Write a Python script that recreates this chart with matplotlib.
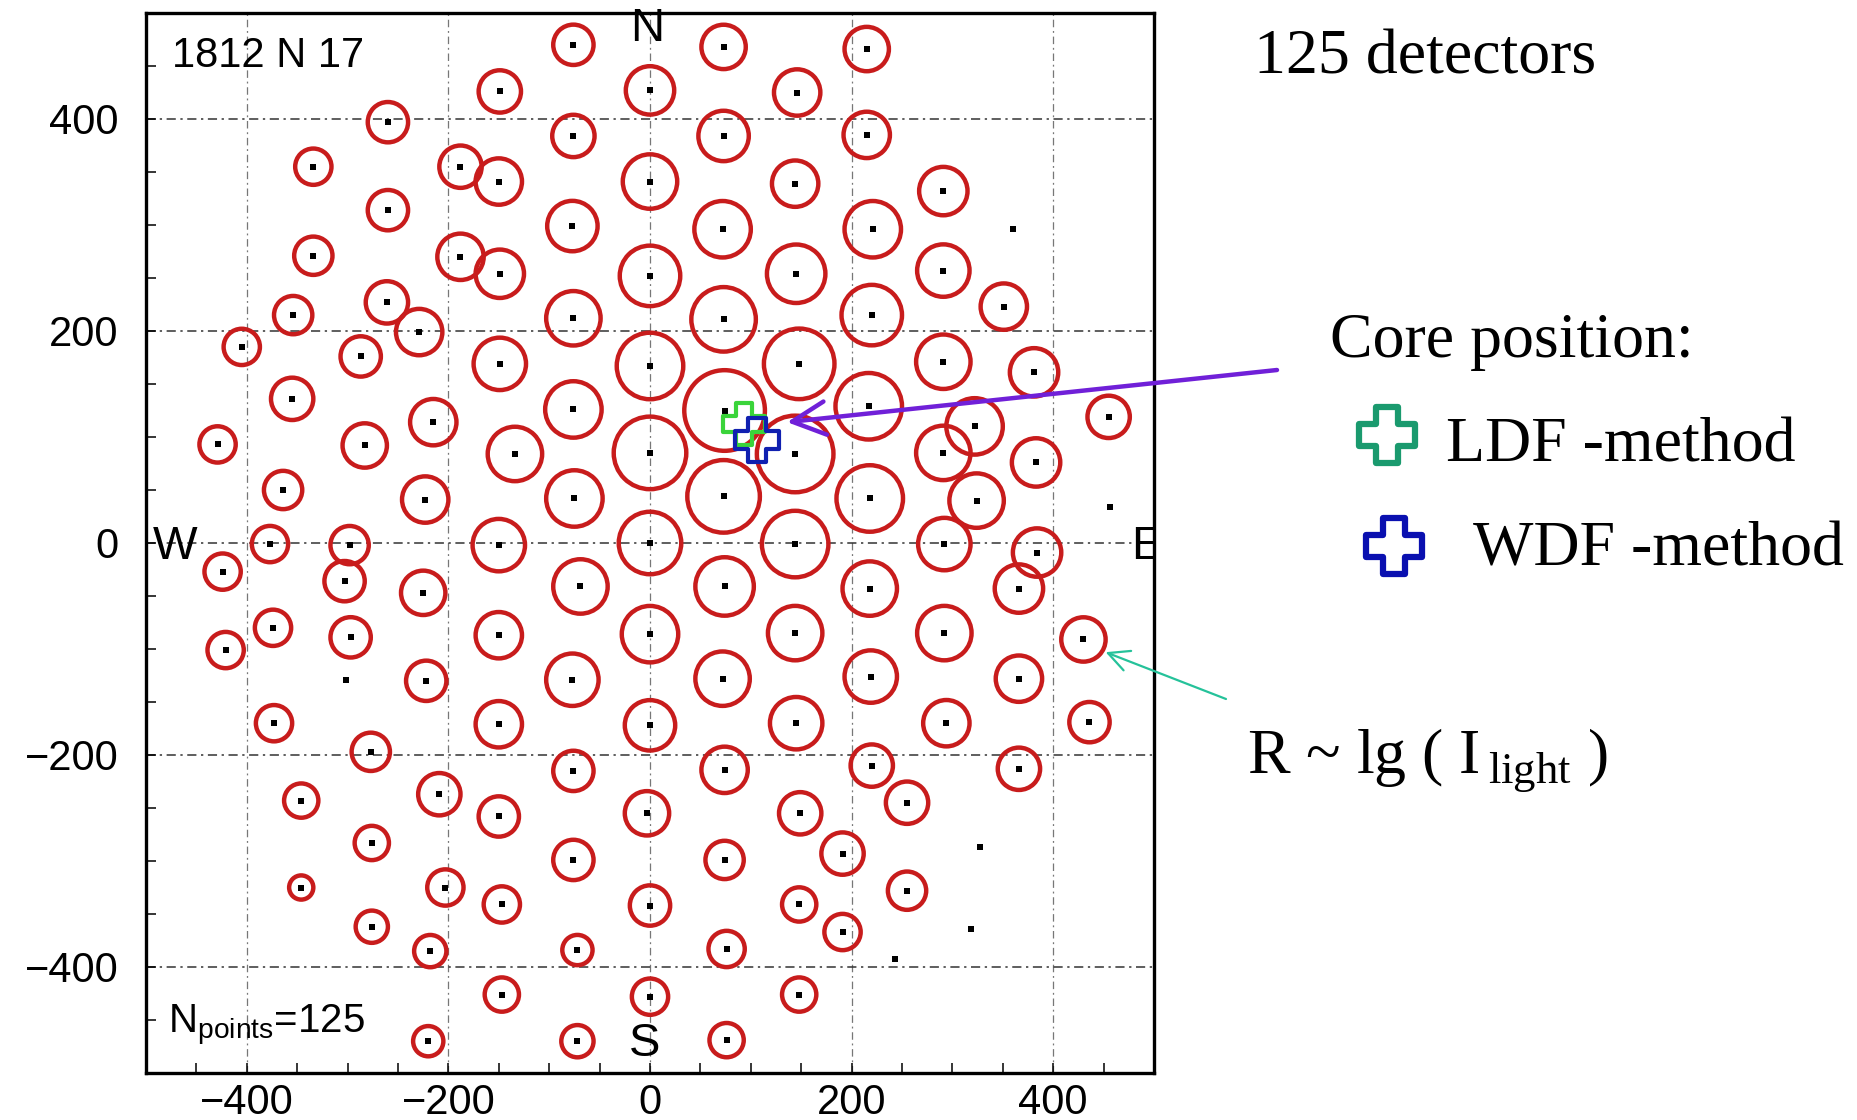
import numpy as np
import matplotlib
matplotlib.use("Agg")
import matplotlib.pyplot as plt
from matplotlib.collections import EllipseCollection
from matplotlib.lines import Line2D
from matplotlib.path import Path
from matplotlib.ticker import MultipleLocator

plt.rcParams['font.family'] = ['Liberation Sans', 'DejaVu Sans']
plt.rcParams['mathtext.fontset'] = 'custom'
plt.rcParams['mathtext.rm'] = 'Liberation Serif'
plt.rcParams['mathtext.sf'] = 'Liberation Sans'

# ---- event 1812 N 17: detectors that fired (x, y in m) and circle radius R ~ lg(I_light)
det_x = [-76, -149, -76, -260, -334, -188, -150, -77, -260, -334, -188, -149, -261, -354,
         -229, -76, -405, -287, -149, -355, -76, -215, -429, -283, -134, -364, -223, -75,
         -377, -298, -150,
         0, 0, 0, 0, 0, 0, 0, 0, -3, 0, 0,
         73, 146, 215, 73, 215, 144, 291, 72, 221, 145, 291, 73, 220, 351, 148, 291, 381,
         74, 217, 322, 455, 144, 291, 383, 73, 218, 324, 144, 292, 384,
         74, 218, 366, 144, 292, 430, 72, 219, 366, 145, 294, 436, 74, 220, 366, 255, 149,
         191, 74, 148, 255, 191, 76, 148, 76,
         -424, -303, -225, -69, -374, -297, -421, -150, -222, -77, -373, -150, -277, -76,
         -346, -209, -150, -276, -76, -346, -203, -147, -276, -218, -72, -147, -220, -72]
det_y = [470, 426, 384, 397, 355, 355, 341, 299, 314, 271, 270, 254, 227, 215,
         199, 212, 185, 176, 169, 136, 126, 114, 93, 92, 84, 50, 41, 42,
         -1, -2, -2,
         427, 341, 252, 167, 85, 0, -86, -172, -255, -342, -428,
         468, 425, 466, 384, 385, 339, 332, 296, 296, 254, 257, 211, 215, 223, 169, 171, 161,
         125, 129, 110, 119, 84, 85, 76, 44, 42, 40, -1, -1, -9,
         -41, -43, -43, -85, -85, -91, -128, -126, -128, -170, -170, -169, -214, -210, -213,
         -245, -255, -293, -299, -341, -328, -367, -383, -426, -469,
         -27, -36, -47, -41, -80, -89, -101, -87, -130, -129, -170, -171, -197, -215,
         -243, -237, -258, -283, -299, -325, -325, -341, -362, -385, -384, -426, -470, -470]
det_r = [20, 21, 21, 20, 18, 21, 23, 25, 20, 19, 23, 24, 21, 19,
         23, 27, 18, 20, 26, 21, 28, 23, 18, 22, 27, 19, 23, 28,
         18, 19, 26,
         24, 27, 30, 33, 36, 31, 28, 25, 22, 20, 18,
         22, 23, 22, 25, 23, 23, 24, 28, 28, 29, 26, 32, 30, 23, 35, 27, 24,
         40, 33, 28, 21, 38, 27, 24, 36, 33, 27, 33, 26, 24,
         29, 27, 24, 27, 27, 22, 27, 26, 23, 26, 23, 20, 23, 21, 21,
         21, 21, 21, 19, 17, 19, 18, 18, 17, 17,
         18, 20, 22, 27, 18, 20, 18, 23, 20, 26, 18, 23, 19, 20,
         17, 21, 20, 17, 20, 12, 18, 18, 16, 16, 15, 17, 15, 16]

# detectors without a signal
quiet_x = [360, 456, 327, 318, 243, -302]
quiet_y = [296, 34, -287, -364, -392, -129]

# reconstructed shower core
core_ldf = (93, 112)
core_wdf = (106, 97)

RED = '#c81c1c'
W_PX, H_PX, DPI = 1858, 1120, 100


def fx(px):
    return px / W_PX


def fy(py):
    return 1 - py / H_PX


fig = plt.figure(figsize=(W_PX / DPI, H_PX / DPI), dpi=DPI)
fig.patch.set_facecolor('white')
ax = fig.add_axes([fx(146), fy(1073), 1008 / W_PX, 1060 / H_PX])
ax.set_xlim(-500, 500)
ax.set_ylim(-500, 500)

# axes frame, ticks and grid
for s in ax.spines.values():
    s.set_linewidth(2.4)
ax.xaxis.set_major_locator(MultipleLocator(200))
ax.yaxis.set_major_locator(MultipleLocator(200))
ax.xaxis.set_minor_locator(MultipleLocator(50))
ax.yaxis.set_minor_locator(MultipleLocator(50))
ax.tick_params(which='both', direction='in', length=7.2, width=1.1,
               top=False, right=False, labelsize=30)
ax.tick_params(axis='x', pad=7)
ax.tick_params(axis='y', pad=20)
ax.set_axisbelow(True)
ax.grid(axis='y', which='major', linestyle=(0, (6, 3, 1.5, 3)), linewidth=1.1, color='#333333')
ax.grid(axis='x', which='major', linestyle=(0, (6, 3, 1.5, 3)), linewidth=0.9, color='#777777')

# detector circles (radius in x data units, drawn round)
circles = EllipseCollection(widths=2 * np.asarray(det_r, float),
                            heights=2 * np.asarray(det_r, float),
                            angles=np.zeros(len(det_r)), units='x',
                            offsets=np.column_stack([det_x, det_y]),
                            offset_transform=ax.transData,
                            facecolors='none', edgecolors=RED, linewidths=3.2,
                            zorder=3)
ax.add_collection(circles)

# detector positions
ax.scatter(det_x + quiet_x, det_y + quiet_y, marker='s', s=14, color='black',
           linewidths=0, zorder=4)

# outlined cross marker
a = 0.4
cross = Path([(-a, 1), (a, 1), (a, a), (1, a), (1, -a), (a, -a), (a, -1), (-a, -1),
              (-a, -a), (-1, -a), (-1, a), (-a, a), (-a, 1)], closed=True)

ax.plot([core_ldf[0]], [core_ldf[1]], marker=cross, ms=30, mfc='none',
        mec='#3ad43a', mew=3.0, zorder=5)
ax.plot([core_wdf[0]], [core_wdf[1]], marker=cross, ms=31, mfc='none',
        mec='#1020b0', mew=3.0, zorder=6)

# compass letters and labels inside the frame
ax.text(-3, 485, 'N', fontsize=34, ha='center', va='center', clip_on=False)
ax.text(-5, -473, 'S', fontsize=34, ha='center', va='center')
ax.text(-471, -4, 'W', fontsize=34, ha='center', va='center')
ax.text(477, -4, 'E', fontsize=34, ha='left', va='center', clip_on=True)
ax.text(-474, 449, '1812 N 17', fontsize=30, ha='left', va='baseline')
ax.text(-478, -462, r'N$_{\mathsf{points}}$=125', fontsize=29, ha='left', va='baseline')

# arrow to the reconstructed core
ax.annotate('', xy=(136, 114), xycoords='data',
            xytext=(fx(1277), fy(370)), textcoords='figure fraction',
            arrowprops=dict(arrowstyle='->,head_length=0.6,head_width=0.3',
                            color='#7020d8', lw=3.2, mutation_scale=40,
                            shrinkA=0, shrinkB=0),
            annotation_clip=False, zorder=7)

# arrow to a detector circle
ax.annotate('', xy=(452, -103), xycoords='data',
            xytext=(fx(1226), fy(699)), textcoords='figure fraction',
            arrowprops=dict(arrowstyle='->,head_length=0.5,head_width=0.25',
                            color='#25c29a', lw=1.6, mutation_scale=30,
                            shrinkA=0, shrinkB=0),
            annotation_clip=False, zorder=7)

# annotation texts to the right
serif = ['Liberation Serif', 'DejaVu Serif']
fig.text(fx(1254), fy(73), '125 detectors', family=serif, fontsize=46, va='baseline')
fig.text(fx(1330), fy(357), 'Core position:', family=serif, fontsize=46, va='baseline')
fig.text(fx(1446), fy(461), 'LDF -method', family=serif, fontsize=46, va='baseline')
fig.text(fx(1473), fy(566), 'WDF -method', family=serif, fontsize=46, va='baseline')
fig.text(fx(1247), fy(772), r'R ~ lg ( I$_{\,\mathrm{light}}$ )', family=serif,
         fontsize=46, va='baseline')

fig.add_artist(Line2D([fx(1387)], [fy(435)], transform=fig.transFigure, marker=cross,
                      ms=40, mfc='none', mec='#1a9a6e', mew=4.5))
fig.add_artist(Line2D([fx(1394)], [fy(546)], transform=fig.transFigure, marker=cross,
                      ms=40, mfc='none', mec='#0a10b0', mew=4.5))

fig.savefig('out.png', dpi=DPI, facecolor='white')
